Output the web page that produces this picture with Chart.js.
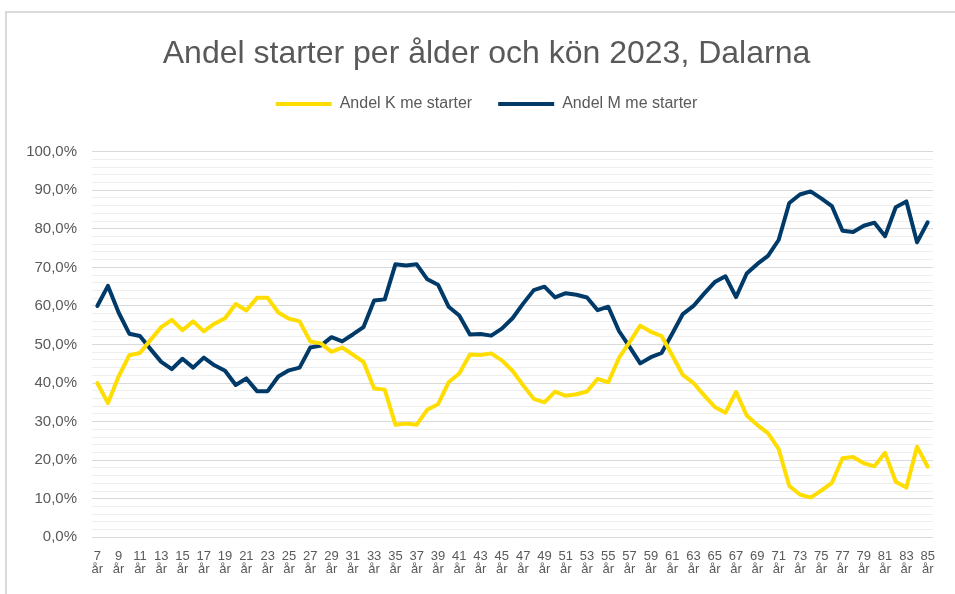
<!DOCTYPE html>
<html>
<head>
<meta charset="utf-8">
<script src="https://cdn.jsdelivr.net/npm/chart.js@4/dist/chart.umd.min.js"></script>
<style>
  html, body { margin: 0; padding: 0; background: #fff; overflow: hidden; }
  #frame { position: absolute; left: 5px; top: 11px; width: 970px; height: 600px; border: 2px solid #d9d9d9; box-sizing: border-box; }
  #chart { position: absolute; left: 0; top: 0; }
</style>
</head>
<body>
<div id="frame"></div>
<canvas id="chart" width="955" height="594"></canvas>
<script>
// Åldrar 7-85 år
var categories = [
    '7 år', '8 år', '9 år', '10 år', '11 år', '12 år', '13 år', '14 år', '15 år', '16 år',
    '17 år', '18 år', '19 år', '20 år', '21 år', '22 år', '23 år', '24 år', '25 år', '26 år',
    '27 år', '28 år', '29 år', '30 år', '31 år', '32 år', '33 år', '34 år', '35 år', '36 år',
    '37 år', '38 år', '39 år', '40 år', '41 år', '42 år', '43 år', '44 år', '45 år', '46 år',
    '47 år', '48 år', '49 år', '50 år', '51 år', '52 år', '53 år', '54 år', '55 år', '56 år',
    '57 år', '58 år', '59 år', '60 år', '61 år', '62 år', '63 år', '64 år', '65 år', '66 år',
    '67 år', '68 år', '69 år', '70 år', '71 år', '72 år', '73 år', '74 år', '75 år', '76 år',
    '77 år', '78 år', '79 år', '80 år', '81 år', '82 år', '83 år', '84 år', '85 år'
];

// Andel kvinnor (%)
var andelK = [
    40.0, 34.8, 41.7, 47.2, 47.8, 51.2, 54.5, 56.4, 53.7, 56.0,
    53.4, 55.4, 56.8, 60.5, 58.8, 62.1, 62.1, 58.3, 56.7, 56.0,
    50.8, 50.3, 48.1, 49.2, 47.4, 45.5, 38.6, 38.3, 29.2, 29.5,
    29.2, 33.1, 34.5, 40.2, 42.5, 47.4, 47.3, 47.7, 45.9, 43.2,
    39.4, 35.9, 35.0, 37.8, 36.7, 37.1, 37.8, 41.1, 40.2, 46.5,
    50.6, 54.9, 53.3, 52.2, 47.2, 42.1, 40.0, 36.8, 33.8, 32.3,
    37.7, 31.6, 29.1, 27.0, 22.9, 13.3, 11.1, 10.3, 12.1, 14.1,
    20.5, 20.8, 19.2, 18.4, 21.9, 14.4, 12.9, 23.5, 18.3
];

// Andel män (%)
var andelM = [
    60.0, 65.2, 58.3, 52.8, 52.2, 48.8, 45.5, 43.6, 46.3, 44.0,
    46.6, 44.6, 43.2, 39.5, 41.2, 37.9, 37.9, 41.7, 43.3, 44.0,
    49.2, 49.7, 51.9, 50.8, 52.6, 54.5, 61.4, 61.7, 70.8, 70.5,
    70.8, 66.9, 65.5, 59.8, 57.5, 52.6, 52.7, 52.3, 54.1, 56.8,
    60.6, 64.1, 65.0, 62.2, 63.3, 62.9, 62.2, 58.9, 59.8, 53.5,
    49.4, 45.1, 46.7, 47.8, 52.8, 57.9, 60.0, 63.2, 66.2, 67.7,
    62.3, 68.4, 70.9, 73.0, 77.1, 86.7, 88.9, 89.7, 87.9, 85.9,
    79.5, 79.2, 80.8, 81.6, 78.1, 85.6, 87.1, 76.5, 81.7
];

var textColor = '#595959';
var fontFamily = "'Liberation Sans', Arial, sans-serif";

window.addEventListener('DOMContentLoaded', function() {
    var ctx = document.getElementById('chart').getContext('2d');
    new Chart(ctx, {
        type: 'line',
        data: {
            labels: categories,
            datasets: [{
                label: 'Andel K me starter',
                data: andelK,
                borderColor: '#FFDD00',
                backgroundColor: '#FFDD00',
                borderWidth: 4,
                borderCapStyle: 'round',
                borderJoinStyle: 'round',
                pointRadius: 0,
                tension: 0
            }, {
                label: 'Andel M me starter',
                data: andelM,
                borderColor: '#003A68',
                backgroundColor: '#003A68',
                borderWidth: 4,
                borderCapStyle: 'round',
                borderJoinStyle: 'round',
                pointRadius: 0,
                tension: 0
            }]
        },
        options: {
            responsive: false,
            animation: false,
            layout: { padding: { left: 18, right: 0, top: 0, bottom: 0 } },
            plugins: {
                title: {
                    display: true,
                    text: 'Andel starter per ålder och kön 2023, Dalarna',
                    color: textColor,
                    font: { family: fontFamily, size: 32, weight: 'normal', lineHeight: 1.2 },
                    padding: { top: 34.5, bottom: -2.9 }
                },
                legend: {
                    display: true,
                    labels: {
                        color: textColor,
                        font: { family: fontFamily, size: 16 },
                        usePointStyle: true,
                        pointStyle: 'line',
                        pointStyleWidth: 56,
                        padding: 26
                    }
                },
                tooltip: { enabled: false }
            },
            scales: {
                x: {
                    offset: true,
                    grid: { display: false, drawTicks: false },
                    border: { display: false },
                    ticks: {
                        autoSkip: false,
                        maxRotation: 0,
                        minRotation: 0,
                        padding: 12.5,
                        color: textColor,
                        font: { family: fontFamily, size: 13, lineHeight: 1.0 },
                        callback: function(value, index) {
                            if (index % 2 !== 0) return '';
                            return this.getLabelForValue(value).split(' ');
                        }
                    },
                    afterFit: function(scale) { scale.height = 56.7; }
                },
                // tomt utrymme mellan legend och ritytan
                xTop: {
                    type: 'category',
                    position: 'top',
                    grid: { display: false, drawTicks: false },
                    border: { display: false },
                    ticks: { display: false },
                    afterFit: function(scale) { scale.height = 29.7; }
                },
                y: {
                    min: 0,
                    max: 100,
                    border: { display: false },
                    grid: {
                        drawTicks: false,
                        lineWidth: 1,
                        color: function(c) {
                            return c.tick && c.tick.value % 10 === 0 ? '#d9d9d9' : '#eeeeee';
                        }
                    },
                    ticks: {
                        stepSize: 2,
                        autoSkip: false,
                        padding: 15,
                        color: textColor,
                        font: { family: fontFamily, size: 15 },
                        callback: function(value) {
                            if (value % 10 !== 0) return '';
                            return value.toFixed(1).replace('.', ',') + '%';
                        }
                    },
                    afterFit: function(scale) { scale.width = 74; }
                },
                // tom högermarginal
                yRight: {
                    type: 'linear',
                    position: 'right',
                    grid: { display: false, drawTicks: false },
                    border: { display: false },
                    ticks: { display: false },
                    afterFit: function(scale) { scale.width = 22; }
                }
            }
        }
    });
});
</script>
</body>
</html>
